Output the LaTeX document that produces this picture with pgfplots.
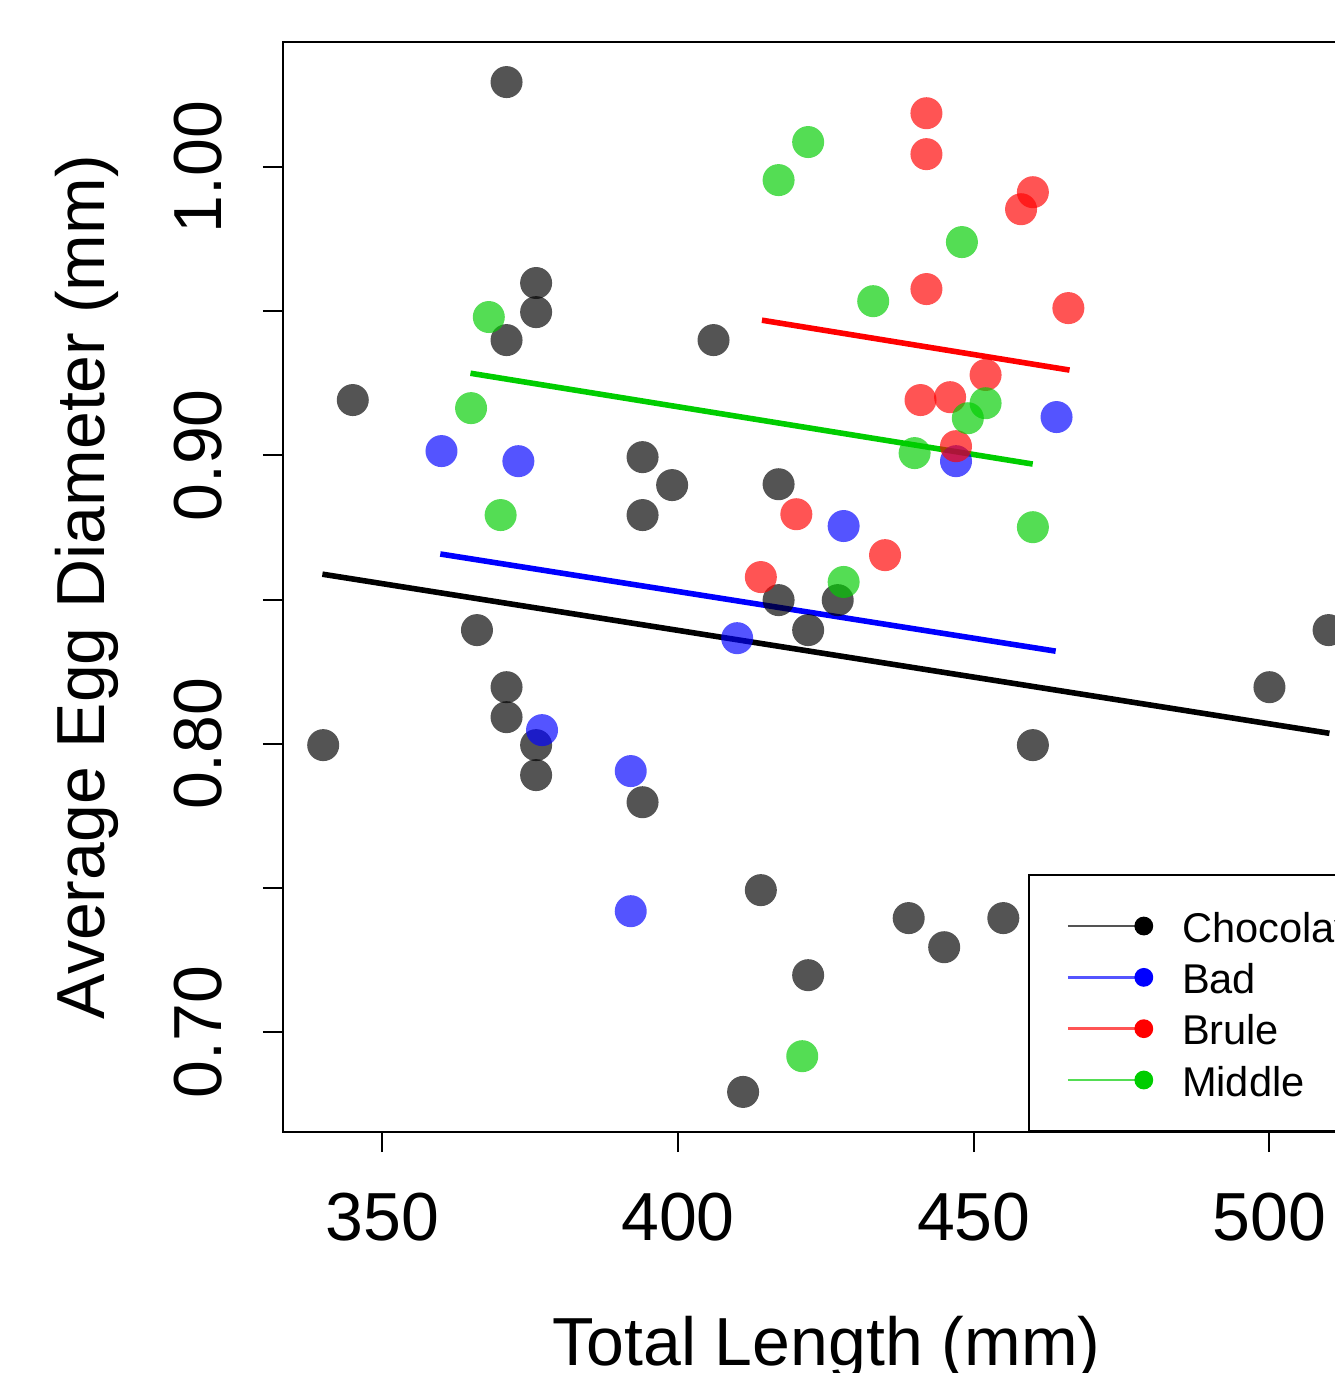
\documentclass[border=0pt]{standalone}
\usepackage{fontspec}
\setmainfont{Liberation Sans}
\usepackage{pgfplots}
\pgfplotsset{compat=1.18}

\definecolor{gr3}{RGB}{0,205,0}
\definecolor{ptgray}{RGB}{84,84,84}
\definecolor{ptblue}{RGB}{84,84,255}
\definecolor{ptred}{RGB}{255,84,84}
\definecolor{ptgreen}{RGB}{84,221,84}

\pgfplotsset{
  dots/.style={only marks, mark=*, mark size=4pt, forget plot, color=#1,
    mark options={draw opacity=0, fill=#1, fill opacity=0.67}},
  fit/.style={no marks, forget plot, #1, line width=1.4pt},
}

\begin{document}
\begin{tikzpicture}
\begin{axis}[
  name=ax,
  scale only axis,
  width=271.75pt, height=272.5pt,
  xmin=333.2, xmax=517.0,
  ymin=0.6653, ymax=1.0434,
  xtick={350,400,450,500},
  xticklabels={350,400,450,500},
  ytick={0.70,0.75,0.80,0.85,0.90,0.95,1.00},
  yticklabels={0.70,,0.80,,0.90,,1.00},
  tick pos=left,
  tick align=outside,
  major tick length=5pt,
  major tick style={black, line width=0.5pt},
  axis line style={black, line width=0.5pt},
  tick label style={font=\fontsize{17}{20}\selectfont, inner sep=0pt},
  xticklabel style={anchor=north},
  yticklabel style={rotate=90, anchor=south},
  xticklabel shift=10pt,
  yticklabel shift=10pt,
  label style={font=\fontsize{17}{20}\selectfont, inner sep=0pt},
  xlabel={Total Length (mm)},
  ylabel={Average Egg Diameter (mm)},
  xlabel style={at={(axis description cs:0.5,-0.2138)}, anchor=base},
  ylabel style={at={(axis description cs:-0.1638,0.5)}, anchor=base},
  legend style={at={(axis description cs:0.6854,0)}, anchor=south west,
    draw=black, line width=0.5pt, font=\fontsize{10.4}{12}\selectfont,
    inner xsep=9.4pt, inner ysep=7.75pt, row sep=2.83pt, column sep=7.2pt,
    nodes={inner sep=0pt, text height=9pt, text depth=1pt}},
  legend cell align=left,
]

% Chocolay
\addplot[dots=black] coordinates {
  (371,1.0295) (345,0.9192) (376,0.9598) (376,0.9497) (371,0.9400) (406,0.9400)
  (394,0.8994) (399,0.8897) (394,0.8793) (417,0.8900) (417,0.8498) (427,0.8498)
  (422,0.8394) (366,0.8394) (371,0.8196) (371,0.8092) (376,0.7995) (376,0.7891)
  (340,0.7995) (394,0.7797) (414,0.7492) (439,0.7395) (445,0.7294) (455,0.7395)
  (422,0.7197) (411,0.6792) (460,0.7995) (500,0.8196) (510,0.8394)
};
% Bad
\addplot[dots=blue] coordinates {
  (360,0.9015) (373,0.8980) (428,0.8755) (410,0.8366) (377,0.8047)
  (392,0.7905) (392,0.7419) (447,0.8980) (464,0.9133)
};
% Brule
\addplot[dots=red] coordinates {
  (442,1.0187) (442,1.0045) (460,0.9913) (458,0.9854) (442,0.9577)
  (466,0.9511) (452,0.9279) (441,0.9192) (446,0.9202) (447,0.9032)
  (420,0.8796) (435,0.8654) (414,0.8578)
};
% Middle
\addplot[dots=gr3] coordinates {
  (422,1.0087) (417,0.9955) (448,0.9740) (433,0.9535) (368,0.9480)
  (365,0.9164) (452,0.9181) (449,0.9129) (440,0.9008) (370,0.8793)
  (460,0.8751) (428,0.8561) (421,0.6916)
};

% fitted lines
\addplot[fit=black] coordinates {(339.86,0.8588) (510.14,0.8036)};
\addplot[fit=blue] coordinates {(359.8,0.8658) (463.85,0.8321)};
\addplot[fit=red] coordinates {(414.19,0.9469) (466.2,0.9296)};
\addplot[fit=gr3] coordinates {(364.9,0.9285) (459.97,0.8970)};

\addlegendimage{legend image code/.code={
  \draw[line width=0.6pt, ptgray] (0pt,0pt) -- (19pt,0pt);
  \fill[black] (19pt,0pt) circle (2.1pt);}}
\addlegendentry{Chocolay}
\addlegendimage{legend image code/.code={
  \draw[line width=0.6pt, ptblue] (0pt,0pt) -- (19pt,0pt);
  \fill[blue] (19pt,0pt) circle (2.1pt);}}
\addlegendentry{Bad}
\addlegendimage{legend image code/.code={
  \draw[line width=0.6pt, ptred] (0pt,0pt) -- (19pt,0pt);
  \fill[red] (19pt,0pt) circle (2.1pt);}}
\addlegendentry{Brule}
\addlegendimage{legend image code/.code={
  \draw[line width=0.6pt, ptgreen] (0pt,0pt) -- (19pt,0pt);
  \fill[gr3] (19pt,0pt) circle (2.1pt);}}
\addlegendentry{Middle}
\end{axis}
\pgfresetboundingbox
\path[use as bounding box] ([shift={(-70.75pt,-60.25pt)}]ax.south west) rectangle ([shift={(-8.75pt,10.5pt)}]ax.north east);
\end{tikzpicture}
\end{document}
